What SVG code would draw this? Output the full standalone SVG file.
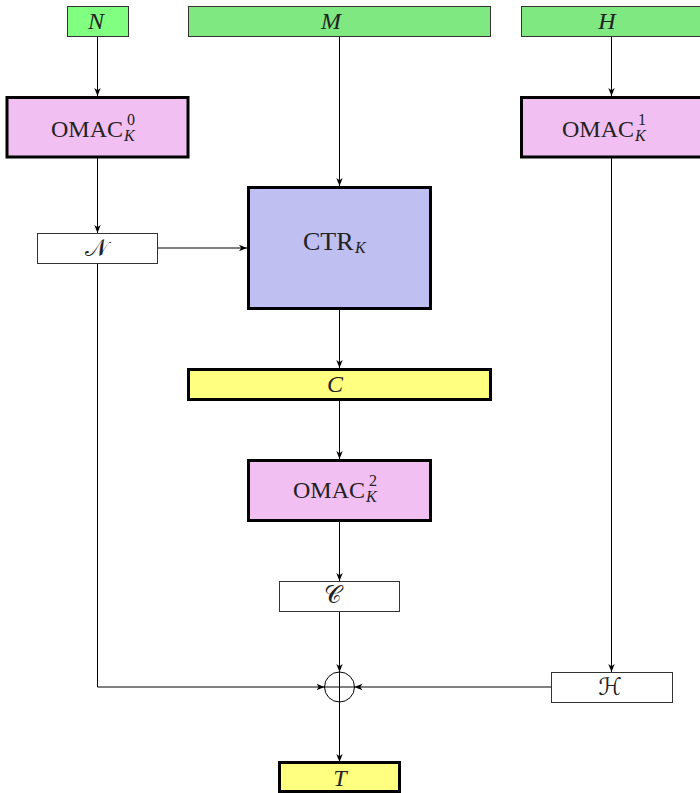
<svg xmlns="http://www.w3.org/2000/svg" width="700" height="793" viewBox="0 0 700 793">
<defs>
<marker id="arr" markerUnits="userSpaceOnUse" markerWidth="8" markerHeight="8" viewBox="0 0 8 8" refX="8" refY="4" orient="auto">
<path d="M0,0.8 L8,4 L0,7.2 L2.2,4 z" fill="#000"/>
</marker>
</defs>
<style>
.in{fill:#80e880;stroke:#333;stroke-width:1}
.omac{fill:#f2bff2;stroke:#000;stroke-width:3}
.ctr{fill:#bfbff2;stroke:#000;stroke-width:3}
.out{fill:#ffff80;stroke:#000;stroke-width:3}
.val{fill:#fff;stroke:#333;stroke-width:1}
.t{font-family:"Liberation Serif","DejaVu Serif",serif;font-size:24px;fill:#222}
.i{font-style:italic}
.s{font-size:16px}
.sc{font-family:"DejaVu Serif","DejaVu Sans","Noto Sans",serif;font-size:24px;fill:#222}
.c{fill:none;stroke:#000;stroke-width:1}
.a{marker-end:url(#arr)}
</style>
<g id="connectors" class="c">
<line class="a" x1="97.5" y1="37" x2="97.5" y2="96"/>
<line class="a" x1="97.5" y1="158" x2="97.5" y2="233"/>
<line class="a" x1="339.5" y1="37" x2="339.5" y2="186"/>
<line class="a" x1="611.5" y1="37" x2="611.5" y2="96"/>
<line class="a" x1="158" y1="248" x2="247" y2="248"/>
<line class="a" x1="339.5" y1="310" x2="339.5" y2="368"/>
<line class="a" x1="339.5" y1="401" x2="339.5" y2="459"/>
<line class="a" x1="339.5" y1="522" x2="339.5" y2="581"/>
<line class="a" x1="339.5" y1="611" x2="339.5" y2="672"/>
<polyline class="a" points="97.5,263 97.5,687 324.5,687"/>
<line class="a" x1="611.5" y1="158" x2="611.5" y2="672"/>
<line class="a" x1="551" y1="687" x2="354.5" y2="687"/>
<line class="a" x1="339.5" y1="702" x2="339.5" y2="762"/>
</g>
<g id="N">
<rect x="67.5" y="6.5" width="61" height="30" fill="#80ff80" stroke="#333" stroke-width="1"/>
<text class="t i" x="96" y="29" text-anchor="middle">N</text>
</g>
<g id="M">
<rect class="in" x="188.5" y="6.5" width="302" height="30"/>
<text class="t i" x="331" y="29" text-anchor="middle">M</text>
</g>
<g id="H">
<rect class="in" x="521.5" y="6.5" width="182" height="30"/>
<text class="t i" x="607" y="29" text-anchor="middle">H</text>
</g>
<g id="OMAC0">
<rect class="omac" x="7" y="97.5" width="181" height="59.5"/>
<text class="t" x="51" y="137">OMAC</text>
<text class="t s" x="127" y="125">0</text>
<text class="t s i" x="124" y="141">K</text>
</g>
<g id="OMAC1">
<rect class="omac" x="521.5" y="97.5" width="182" height="59.5"/>
<text class="t" x="562" y="137">OMAC</text>
<text class="t s" x="638" y="125">1</text>
<text class="t s i" x="635" y="141">K</text>
</g>
<g id="Nc">
<rect class="val" x="37.5" y="233.5" width="120" height="30"/>
<text class="sc" x="96" y="256" text-anchor="middle">𝒩</text>
</g>
<g id="CTR">
<rect class="ctr" x="248.5" y="187.5" width="182" height="121"/>
<text class="t" x="303" y="250" style="font-size:26px">CTR</text>
<text class="t s i" x="355" y="253">K</text>
</g>
<g id="C">
<rect class="out" x="188.5" y="369.5" width="302" height="30"/>
<text class="t i" x="335" y="392" text-anchor="middle">C</text>
</g>
<g id="OMAC2">
<rect class="omac" x="248.5" y="460.5" width="182" height="60"/>
<text class="t" x="293" y="498">OMAC</text>
<text class="t s" x="369" y="486">2</text>
<text class="t s i" x="366" y="502">K</text>
</g>
<g id="Cc">
<rect class="val" x="279.5" y="581.5" width="120" height="30"/>
<text class="sc" x="333" y="603" text-anchor="middle">𝒞</text>
</g>
<g id="Hc">
<rect class="val" x="551.5" y="672.5" width="121" height="30"/>
<text class="sc" x="610" y="695" text-anchor="middle">ℋ</text>
</g>
<g id="xor" fill="none" stroke="#000" stroke-width="1">
<circle cx="339.5" cy="687" r="15"/>
<line x1="339.5" y1="672" x2="339.5" y2="702"/>
<line x1="324.5" y1="687" x2="354.5" y2="687"/>
</g>
<g id="T">
<rect class="out" x="279.5" y="762.5" width="120" height="29"/>
<text class="t i" x="340" y="786" text-anchor="middle">T</text>
</g>
</svg>
